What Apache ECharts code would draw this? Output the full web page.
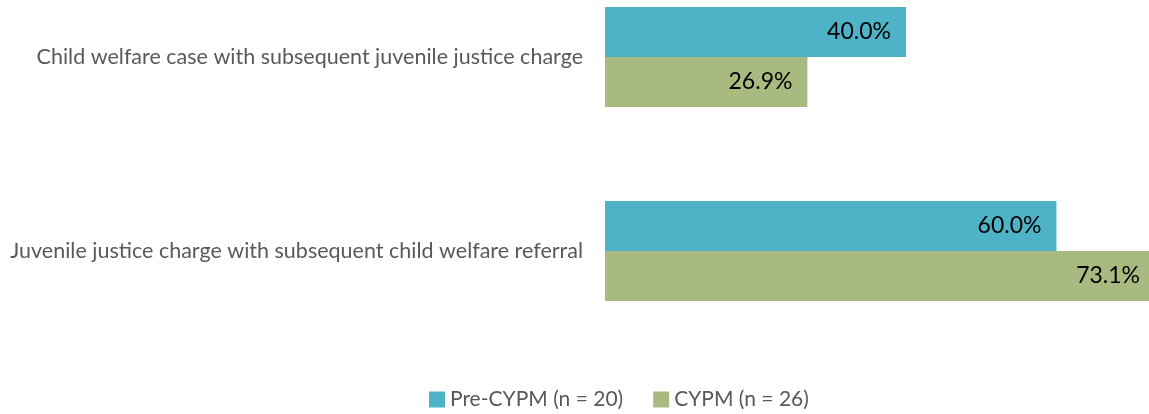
<!DOCTYPE html>
<html><head><meta charset="utf-8">
<script src="https://cdn.jsdelivr.net/npm/echarts@6/dist/echarts.min.js"></script>
<style>html,body{margin:0;padding:0;background:#fff}#c{width:1149px;height:414px}</style>
</head><body><div id="c"></div>
<script>
var categories = ["Child welfare case with subsequent juvenile justice charge", "Juvenile justice charge with subsequent child welfare referral"];
var seriesNames = ["Pre-CYPM (n = 20)", "CYPM (n = 26)"];
var preCYPM = [40.0, 60.0];
var cypm = [26.9, 73.1];
var colors = ["#4FB3C8", "#A9BA80"];
var FONT = "Lato";
var chart = echarts.init(document.getElementById('c'));
function mk(name, data, color) {
  return {
    name: name, type: 'bar', data: data, clip: false,
    barGap: '0%', barWidth: 50,
    itemStyle: { color: color },
    label: { show: true, position: 'insideRight', distance: 15, color: '#000', fontFamily: FONT, fontSize: 23,
      formatter: function (p) { return p.value.toFixed(1) + '%'; } }
  };
}
chart.setOption({
  animation: false,
  grid: { left: 605, right: 0, top: 57, bottom: 163, containLabel: false },
  xAxis: { type: 'value', min: 0, max: 72.3, show: false },
  yAxis: { type: 'category', data: categories, inverse: true, boundaryGap: false,
    axisLine: { show: false }, axisTick: { show: false }, splitLine: { show: false },
    axisLabel: { margin: 22, color: '#595959', fontFamily: FONT, fontSize: 21.5 } },
  legend: { top: 384, left: 424, itemWidth: 16, itemHeight: 16, itemGap: 30, icon: 'rect',
    textStyle: { color: '#595959', fontFamily: FONT, fontSize: 21 } },
  series: [mk(seriesNames[0], preCYPM, colors[0]), mk(seriesNames[1], cypm, colors[1])]
});
</script></body></html>
